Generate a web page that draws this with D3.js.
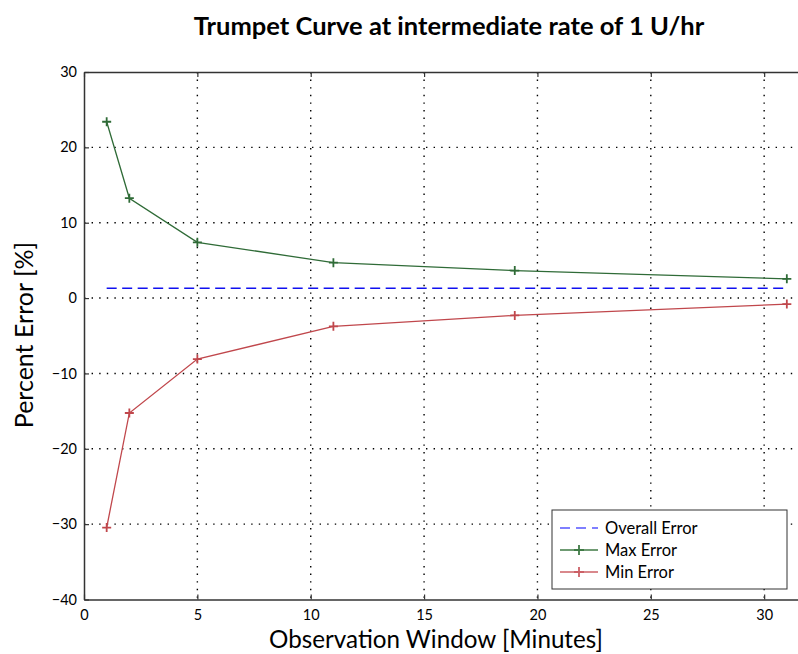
<!DOCTYPE html>
<html><head><meta charset="utf-8">
<script src="https://cdn.jsdelivr.net/npm/d3@7"></script>
<style>body{margin:0;background:#fff}svg{display:block}</style>
</head><body><svg id="c" width="798" height="654"></svg>
<script>
const windows = [1, 2, 5, 11, 19, 31];
const maxError = [23.4, 13.25, 7.4, 4.7, 3.65, 2.55];
const minError = [-30.45, -15.25, -8.1, -3.75, -2.3, -0.8];
const overallError = 1.3;
const overallRange = [1, 31];
const xTicks = [0, 5, 10, 15, 20, 25, 30];
const yTicks = [-40, -30, -20, -10, 0, 10, 20, 30];

const svg = d3.select("#c");
const L = 84, R = 809.5, T = 72, B = 599.5;
const x = d3.scaleLinear().domain([0, 32]).range([L, R]);
const y = d3.scaleLinear().domain([-40, 30]).range([B, T]);
const font = "Lato, 'Open Sans', sans-serif";

// grid
const g = svg.append("g");
g.selectAll("line.vg").data(xTicks.filter(d => d > 0)).join("line")
  .attr("x1", d => x(d)).attr("x2", d => x(d)).attr("y1", T).attr("y2", B)
  .attr("stroke", "#000").attr("stroke-width", 1.4).attr("stroke-dasharray", "1.4,6.2");
g.selectAll("line.hg").data(yTicks.filter(d => d > -40 && d < 30)).join("line")
  .attr("x1", L).attr("x2", R).attr("y1", d => y(d)).attr("y2", d => y(d))
  .attr("stroke", "#000").attr("stroke-width", 1.4).attr("stroke-dasharray", "1.4,6.2");

// axes
const xa = svg.append("g").attr("transform", `translate(0,${B})`)
  .call(d3.axisBottom(x).tickValues(xTicks).tickSize(-5).tickPadding(10).tickSizeOuter(0));
const xt = svg.append("g").attr("transform", `translate(0,${T})`)
  .call(d3.axisTop(x).tickValues(xTicks).tickSize(-5).tickFormat("").tickSizeOuter(0));
const ya = svg.append("g").attr("transform", `translate(${L},0)`)
  .call(d3.axisLeft(y).tickValues(yTicks).tickSize(-5).tickPadding(7).tickSizeOuter(0));
[xa, xt, ya].forEach(a => {
  a.select(".domain").attr("stroke", "#333").attr("stroke-width", 1.5);
  a.selectAll(".tick line").attr("stroke", "#333").attr("stroke-width", 1.2);
  a.selectAll("text").attr("font-family", font).attr("font-size", 14.5).attr("fill", "#000");
});

// series
const line = d3.line().x(d => x(d[0])).y(d => y(d[1]));
const series = [
  {vals: maxError, color: "#2f6b37"},
  {vals: minError, color: "#c0474c"}
];
svg.append("line").attr("x1", x(overallRange[0])).attr("x2", x(overallRange[1]))
  .attr("y1", y(overallError)).attr("y2", y(overallError))
  .attr("stroke", "#1010f0").attr("stroke-width", 1.6).attr("stroke-dasharray", "10,5.5");
function plus(sel, cx, cy, color, s) {
  sel.append("path").attr("d", `M${cx - s},${cy}H${cx + s}M${cx},${cy - s}V${cy + s}`)
    .attr("stroke", color).attr("stroke-width", 1.8).attr("fill", "none");
}
series.forEach(s => {
  const pts = windows.map((w, i) => [w, s.vals[i]]);
  svg.append("path").attr("d", line(pts)).attr("fill", "none")
    .attr("stroke", s.color).attr("stroke-width", 1.3);
  pts.forEach(p => plus(svg, x(p[0]), y(p[1]), s.color, 4.5));
});

// legend
const lg = svg.append("g");
lg.append("rect").attr("x", 552).attr("y", 510).attr("width", 235).attr("height", 79)
  .attr("fill", "#fff").attr("stroke", "#333").attr("stroke-width", 1);
const items = [
  {name: "Overall Error", color: "#5555ff", dash: "10,6", mark: false},
  {name: "Max Error", color: "#3f7a45", dash: null, mark: true},
  {name: "Min Error", color: "#cc6066", dash: null, mark: true}
];
items.forEach((it, i) => {
  const yy = 528 + i * 22;
  const l = lg.append("line").attr("x1", 560).attr("x2", 598).attr("y1", yy).attr("y2", yy)
    .attr("stroke", it.color).attr("stroke-width", 1.4);
  if (it.dash) l.attr("stroke-dasharray", it.dash);
  if (it.mark) plus(lg, 579, yy, it.color, 5);
  lg.append("text").attr("x", 605).attr("y", yy + 5.5).text(it.name)
    .attr("font-family", font).attr("font-size", 16.5).attr("fill", "#000");
});

// titles
svg.append("text").attr("x", 449).attr("y", 35).attr("text-anchor", "middle")
  .attr("font-family", font).attr("font-weight", "bold").attr("font-size", 25.5)
  .text("Trumpet Curve at intermediate rate of 1 U/hr");
svg.append("text").attr("x", 436).attr("y", 648).attr("text-anchor", "middle")
  .attr("font-family", font).attr("font-size", 24.2)
  .text("Observation Window [Minutes]");
svg.append("text").attr("transform", "translate(33,335) rotate(-90)").attr("text-anchor", "middle")
  .attr("font-family", font).attr("font-size", 25)
  .text("Percent Error [%]");
</script></body></html>
